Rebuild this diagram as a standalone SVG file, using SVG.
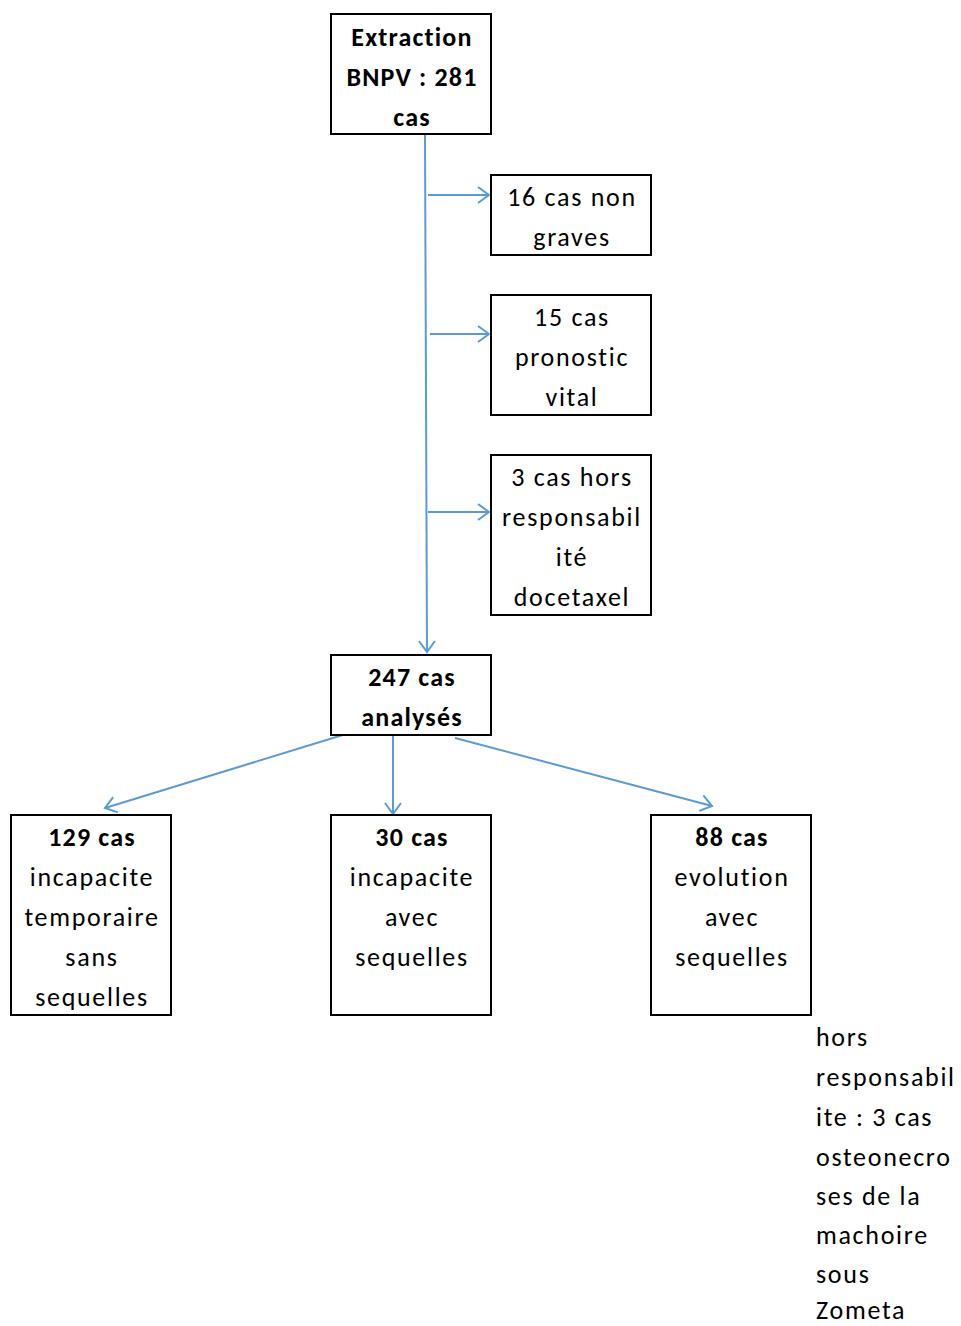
<svg xmlns="http://www.w3.org/2000/svg" width="961" height="1326" viewBox="0 0 961 1326">
<style>
.box{fill:#fff;stroke:#000;stroke-width:2}
text{font-family:Carlito,Lato,"Liberation Sans",sans-serif;font-size:26px;fill:#000;text-anchor:middle;letter-spacing:1.7px}
.b{font-weight:bold;letter-spacing:1.2px}
.l{text-anchor:start}
.c{stroke:#5b9bd5;stroke-width:2;fill:none;marker-end:url(#ah)}
</style>
<defs>
<marker id="ah" viewBox="-12 -9 14 18" markerWidth="14" markerHeight="18" refX="0" refY="0" orient="auto" markerUnits="userSpaceOnUse">
<path d="M-11,-8 L0,0 L-11,8" fill="none" stroke="#5b9bd5" stroke-width="2"/>
</marker>
</defs>
<rect width="961" height="1326" fill="#fff"/>
<g id="connectors">
<line class="c" x1="425" y1="135" x2="427" y2="652"/>
<line class="c" x1="428" y1="195" x2="489" y2="195"/>
<line class="c" x1="430" y1="334" x2="489" y2="334"/>
<line class="c" x1="428" y1="512" x2="489" y2="512"/>
<line class="c" x1="346" y1="734" x2="105" y2="808"/>
<line class="c" x1="393" y1="735" x2="393" y2="814"/>
<line class="c" x1="455" y1="738" x2="712" y2="806"/>
</g>
<g id="extraction">
<rect class="box" x="331" y="14" width="160" height="120"/>
<text class="b" x="412" y="46">Extraction</text>
<text class="b" x="412" y="86">BNPV : 281</text>
<text class="b" x="412" y="126">cas</text>
</g>
<g id="non-graves">
<rect class="box" x="491" y="175" width="160" height="80"/>
<text x="572" y="206">16 cas non</text>
<text x="572" y="246">graves</text>
</g>
<g id="pronostic">
<rect class="box" x="491" y="295" width="160" height="120"/>
<text x="572" y="326">15 cas</text>
<text x="572" y="366">pronostic</text>
<text x="572" y="406">vital</text>
</g>
<g id="hors-docetaxel">
<rect class="box" x="491" y="455" width="160" height="160"/>
<text x="572" y="486">3 cas hors</text>
<text x="572" y="526">responsabil</text>
<text x="572" y="566">ité</text>
<text x="572" y="606">docetaxel</text>
</g>
<g id="analyses">
<rect class="box" x="331" y="655" width="160" height="80"/>
<text class="b" x="412" y="686">247 cas</text>
<text class="b" x="412" y="726">analysés</text>
</g>
<g id="temporaire">
<rect class="box" x="11" y="815" width="160" height="200"/>
<text class="b" x="92" y="846">129 cas</text>
<text x="92" y="886">incapacite</text>
<text x="92" y="926">temporaire</text>
<text x="92" y="966">sans</text>
<text x="92" y="1006">sequelles</text>
</g>
<g id="incapacite-sequelles">
<rect class="box" x="331" y="815" width="160" height="200"/>
<text class="b" x="412" y="846">30 cas</text>
<text x="412" y="886">incapacite</text>
<text x="412" y="926">avec</text>
<text x="412" y="966">sequelles</text>
</g>
<g id="evolution-sequelles">
<rect class="box" x="651" y="815" width="160" height="200"/>
<text class="b" x="732" y="846">88 cas</text>
<text x="732" y="886">evolution</text>
<text x="732" y="926">avec</text>
<text x="732" y="966">sequelles</text>
</g>
<g id="note">
<text class="l" x="816" y="1046">hors</text>
<text class="l" x="816" y="1086">responsabil</text>
<text class="l" x="816" y="1126">ite : 3 cas</text>
<text class="l" x="816" y="1166">osteonecro</text>
<text class="l" x="816" y="1205">ses de la</text>
<text class="l" x="816" y="1244">machoire</text>
<text class="l" x="816" y="1283">sous</text>
<text class="l" x="816" y="1319">Zometa</text>
</g>
</svg>
